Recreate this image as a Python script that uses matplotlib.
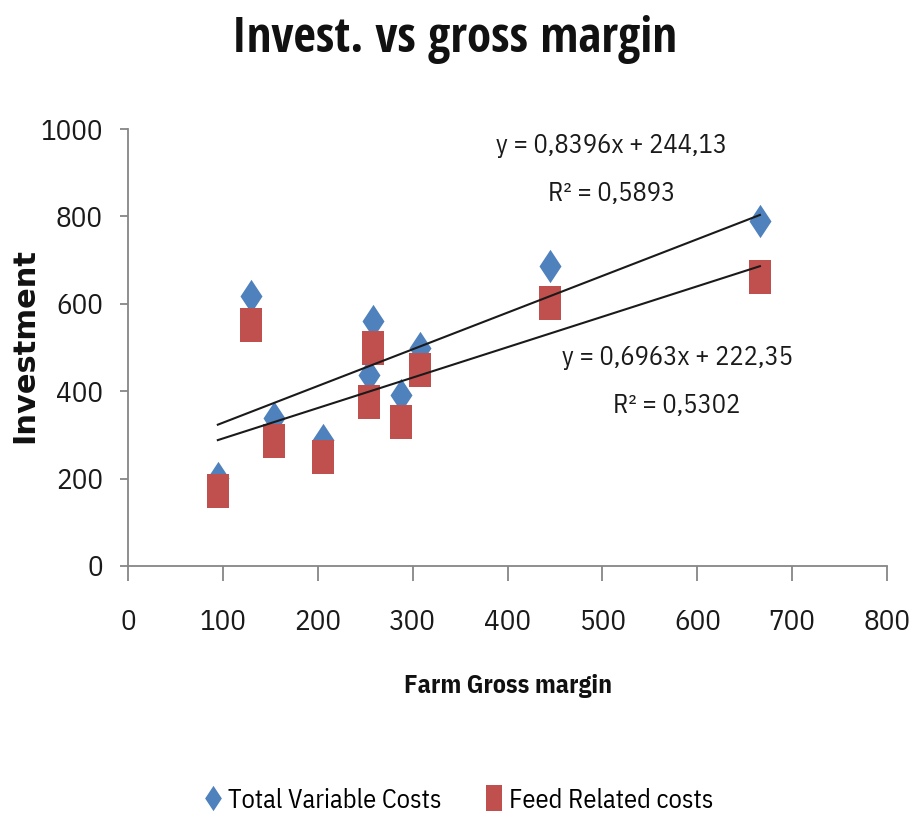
import matplotlib
matplotlib.use("Agg")
import matplotlib.pyplot as plt
import numpy as np
from matplotlib.path import Path

# ---- data ----
gross_margin = [94.4, 129.6, 153.9, 205.2, 257.7, 254.0, 287.6, 308.0, 444.3, 666.0]
total_variable_costs = [201, 618, 339, 288, 560, 437, 391, 499, 687, 789]
feed_related_costs = [172, 551, 287, 250, 500, 375, 329, 448, 602, 662]
series_names = ["Total Variable Costs", "Feed Related costs"]
trend_slopes = [0.8396, 0.6963]
trend_intercepts = [244.13, 222.35]
r_squared = ["0,5893", "0,5302"]
x_ticks = [0, 100, 200, 300, 400, 500, 600, 700, 800]
y_ticks = [0, 200, 400, 600, 800, 1000]

plt.rcParams['font.family'] = ['IBM Plex Sans Condensed', 'DejaVu Sans']

fig = plt.figure(figsize=(9.11, 8.17), dpi=100)
ax = fig.add_axes([128.3/911, 1-566/817, (887-128.3)/911, 437/817])

diamond = Path([(0, 1), (0.66, 0), (0, -1), (-0.66, 0), (0, 1)],
               [Path.MOVETO, Path.LINETO, Path.LINETO, Path.LINETO, Path.CLOSEPOLY])
rect = Path([(-0.64, -1), (0.64, -1), (0.64, 1), (-0.64, 1), (-0.64, -1)],
            [Path.MOVETO, Path.LINETO, Path.LINETO, Path.LINETO, Path.CLOSEPOLY])

blue = "#4F81BD"
red = "#C0504D"
ax.plot(gross_margin, total_variable_costs, linestyle='none', marker=diamond,
        markersize=24, color=blue, markeredgewidth=0, label=series_names[0], zorder=3)
ax.plot(gross_margin, feed_related_costs, linestyle='none', marker=rect,
        markersize=24, color=red, markeredgewidth=0, label=series_names[1], zorder=3)

xs = np.array([min(gross_margin), max(gross_margin)])
for s, b in zip(trend_slopes, trend_intercepts):
    ax.plot(xs, s*xs + b, color="#1a1a1a", lw=1.5, zorder=4)

def fmt(v, d):
    return f"{v:.{d}f}".replace(".", ",")

def put(px, py, s):
    fig.text(px/911, 1-py/817, s, ha='center', va='center', fontsize=19, color='#1a1a1a')

put(612, 145, f"y = {fmt(trend_slopes[0],4)}x + {fmt(trend_intercepts[0],2)}")
put(612, 193, f"R² = {r_squared[0]}")
put(677, 358, f"y = {fmt(trend_slopes[1],4)}x + {fmt(trend_intercepts[1],2)}")
put(677, 406, f"R² = {r_squared[1]}")

ax.set_xlim(0, 800)
ax.set_ylim(0, 1000)
ax.set_xticks(x_ticks)
ax.set_yticks(y_ticks)
for sp in ['top', 'right']:
    ax.spines[sp].set_visible(False)
for sp in ['left', 'bottom']:
    ax.spines[sp].set_color('#868686')
    ax.spines[sp].set_linewidth(1.3)
ax.tick_params(axis='x', direction='out', length=11, width=1.3, color='#868686',
               labelsize=21, pad=20, labelcolor='#1a1a1a')
ax.tick_params(axis='y', direction='out', length=5.8, width=1.3, color='#868686',
               labelsize=21, pad=12.5, labelcolor='#1a1a1a')

fig.text(455/911, 1-40/817, "Invest. vs gross margin", ha='center', va='center',
         fontsize=35.3, fontweight='bold', color='#111',
         family=['Open Sans Condensed', 'IBM Plex Sans Condensed', 'DejaVu Sans'])
fig.text(508/911, 1-686/817, "Farm Gross margin", ha='center', va='center',
         fontsize=18.5, fontweight='bold', color='#111')
fig.text(25/911, 1-345/817, "Investment", ha='center', va='center', rotation=90,
         fontsize=22, fontweight='bold', color='#111', family=['DejaVu Sans'])

leg = fig.legend(loc='center', bbox_to_anchor=(458/911, 1-800/817), ncol=2, frameon=False,
                 fontsize=19, handletextpad=0.17, columnspacing=1.6, markerscale=0.76,
                 handlelength=0.8)

fig.savefig("out.png", dpi=100)
